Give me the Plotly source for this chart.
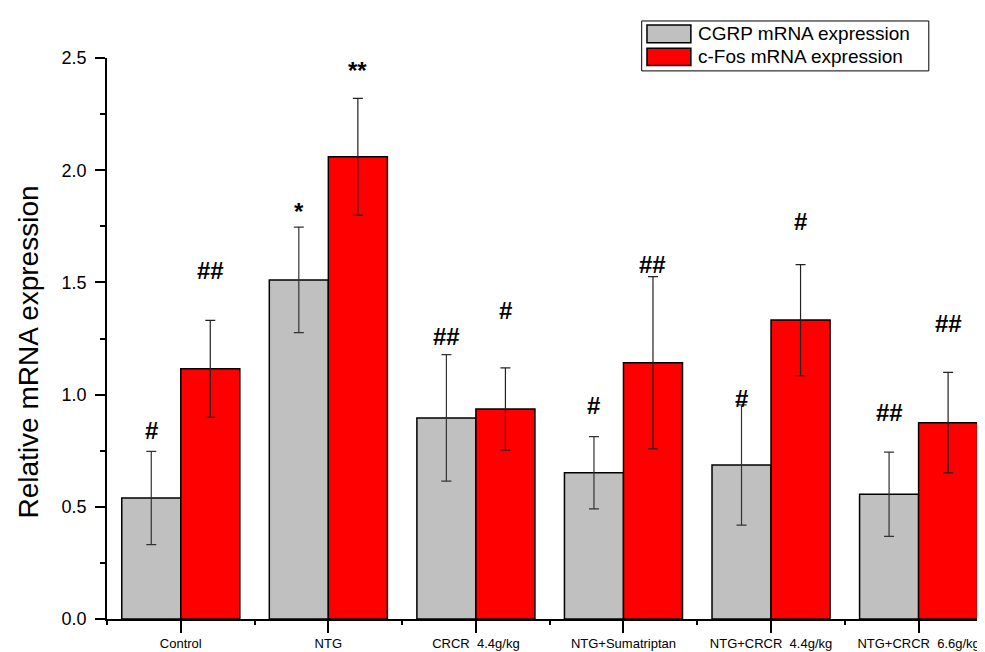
import plotly.graph_objects as go

categories = ["Control", "NTG", "CRCR  4.4g/kg", "NTG+Sumatriptan", "NTG+CRCR  4.4g/kg", "NTG+CRCR  6.6g/kg"]
cgrp_values = [0.539, 1.511, 0.896, 0.652, 0.686, 0.556]
cgrp_errors = [0.208, 0.235, 0.282, 0.161, 0.268, 0.188]
cfos_values = [1.115, 2.060, 0.936, 1.142, 1.332, 0.875]
cfos_errors = [0.216, 0.260, 0.183, 0.384, 0.247, 0.224]
cgrp_marks = ["#", "*", "##", "#", "#", "##"]
cfos_marks = ["##", "**", "#", "##", "#", "##"]
cgrp_mark_y = [0.842, 1.815, 1.258, 0.950, 0.983, 0.921]
cfos_mark_y = [1.552, 2.446, 1.377, 1.582, 1.770, 1.315]
y_ticks = [0.0, 0.5, 1.0, 1.5, 2.0, 2.5]

x = list(range(len(categories)))
FONT = "Liberation Sans, Arial, sans-serif"

fig = go.Figure()
fig.add_trace(go.Bar(
    x=x, y=cgrp_values, name="CGRP mRNA expression",
    marker=dict(color="#C0C0C0", line=dict(color="black", width=1.5)),
    error_y=dict(type="data", array=cgrp_errors, color="#333333", thickness=1.2, width=5),
    showlegend=False,
))
fig.add_trace(go.Bar(
    x=x, y=cfos_values, name="c-Fos mRNA expression",
    marker=dict(color="#FF0000", line=dict(color="black", width=1.5)),
    error_y=dict(type="data", array=cfos_errors, color="#222222", thickness=1.2, width=5),
    showlegend=False,
))

annotations = []
for i in x:
    annotations.append(dict(x=i - 0.2, y=cgrp_mark_y[i], xref="x", yref="y", text="<b>" + cgrp_marks[i] + "</b>",
                            showarrow=False, font=dict(family=FONT, size=24, color="black"),
                            yanchor="middle"))
    annotations.append(dict(x=i + 0.2, y=cfos_mark_y[i], xref="x", yref="y", text="<b>" + cfos_marks[i] + "</b>",
                            showarrow=False, font=dict(family=FONT, size=24, color="black"),
                            yanchor="middle"))

# y-axis title
annotations.append(dict(x=-0.0894, y=0.476, xref="paper", yref="paper", text="Relative mRNA expression",
                        textangle=-90, showarrow=False, xanchor="center", yanchor="middle",
                        font=dict(family=FONT, size=28, color="black")))

# manual legend (large swatches like the original)
legend_names = ["CGRP mRNA expression", "c-Fos mRNA expression"]
legend_colors = ["#C0C0C0", "#FF0000"]
shapes = [dict(type="rect", xref="paper", yref="paper", x0=0.609, x1=0.936, y0=0.977, y1=1.066,
               line=dict(color="black", width=1), fillcolor="white", layer="above")]
sw_y = [(1.027, 1.059), (0.9866, 1.0176)]
txt_y = [1.043, 1.002]
for k in range(2):
    shapes.append(dict(type="rect", xref="paper", yref="paper", x0=0.615, x1=0.665,
                       y0=sw_y[k][0], y1=sw_y[k][1], line=dict(color="black", width=1.5),
                       fillcolor=legend_colors[k], layer="above"))
    annotations.append(dict(x=0.671, y=txt_y[k], xref="paper", yref="paper", text=legend_names[k],
                            showarrow=False, xanchor="left", yanchor="middle",
                            font=dict(family=FONT, size=19, color="black")))

fig.update_layout(
    width=985, height=652,
    margin=dict(l=99, r=8, t=50, b=41, autoexpand=False),
    paper_bgcolor="white", plot_bgcolor="white",
    barmode="group", bargap=0.2, bargroupgap=0,
    font=dict(family=FONT, color="black"),
    annotations=annotations, shapes=shapes,
    xaxis=dict(
        range=[-0.5, 5.45], tickmode="array", tickvals=x, ticktext=categories,
        tickfont=dict(size=13), ticks="outside", ticklen=12, tickwidth=1.5, tickcolor="black",
        showline=True, linecolor="black", linewidth=1.5, showgrid=False, zeroline=False,
        minor=dict(tickmode="array", tickvals=[i + 0.5 for i in range(-1, 6)], ticks="outside",
                   ticklen=4, tickwidth=1.5, tickcolor="black"),
    ),
    yaxis=dict(
        range=[0, 2.5], tickmode="array", tickvals=y_ticks, ticktext=[f"{v:.1f}" for v in y_ticks],
        tickfont=dict(size=18), ticks="outside", ticklen=10, tickwidth=1.5, tickcolor="black",
        ticklabelstandoff=5,
        showline=True, linecolor="black", linewidth=1.5, showgrid=False, zeroline=False,
        minor=dict(dtick=0.25, ticks="outside", ticklen=5, tickwidth=1.5, tickcolor="black"),
    ),
)

fig.write_html("out.html")
